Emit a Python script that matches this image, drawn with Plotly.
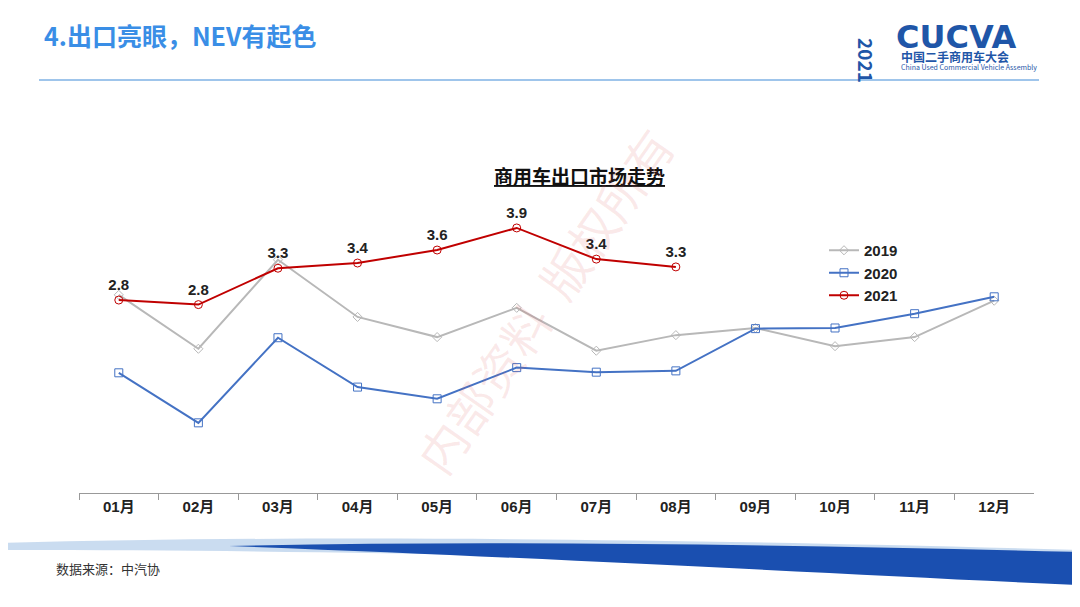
import plotly.graph_objects as go

months = ["01月", "02月", "03月", "04月", "05月", "06月", "07月", "08月", "09月", "10月", "11月", "12月"]
y2019 = [2.87, 2.04, 3.41, 2.53, 2.22, 2.67, 2.01, 2.25, 2.36, 2.08, 2.22, 2.78]
y2020 = [1.67, 0.90, 2.21, 1.45, 1.27, 1.75, 1.68, 1.70, 2.35, 2.36, 2.58, 2.84]
y2021 = [2.79, 2.72, 3.28, 3.36, 3.56, 3.90, 3.42, 3.30]
labels2021 = ["2.8", "2.8", "3.3", "3.4", "3.6", "3.9", "3.4", "3.3"]

W, H = 1080, 607
DX, DY = 9, 8  # page offset compensation


def px(x):
    return (x - DX) / W


def py(y):
    return 1 - (y - DY) / H


bold = dict(family="Liberation Sans, Noto Sans CJK SC", color="#222", weight="bold")

fig = go.Figure()
fig.add_trace(go.Scatter(x=months, y=y2019, name="2019", mode="lines+markers",
                         line=dict(color="#b8b8b8", width=2),
                         marker=dict(symbol="diamond-open", size=7, color="#b8b8b8")))
fig.add_trace(go.Scatter(x=months, y=y2020, name="2020", mode="lines+markers",
                         line=dict(color="#4472c4", width=2),
                         marker=dict(symbol="square-open", size=8, color="#4472c4")))
fig.add_trace(go.Scatter(x=months[:8], y=y2021, name="2021", mode="lines+markers+text",
                         line=dict(color="#c00000", width=2),
                         marker=dict(symbol="circle-open", size=8, color="#c00000"),
                         text=labels2021, textposition="top center",
                         textfont=dict(size=15, **bold), cliponaxis=False))

fig.update_layout(
    width=W, height=H, plot_bgcolor="white", paper_bgcolor="white",
    margin=dict(l=0, r=0, t=0, b=0),
    font=dict(family="Noto Sans CJK SC, Liberation Sans"),
    legend=dict(x=px(825), y=py(234), xanchor="left", yanchor="top",
                font=dict(size=15, **bold), bgcolor="rgba(0,0,0,0)", tracegroupgap=0),
    annotations=[
        dict(text="4.出口亮眼，NEV有起色", x=px(43), y=py(35), xref="paper", yref="paper",
             showarrow=False, xanchor="left", yanchor="middle",
             font=dict(size=25, color="#3a8ee6", family="Noto Sans CJK SC", weight="bold")),
        dict(text="<u>商用车出口市场走势</u>", x=px(580), y=py(160), xref="paper", yref="paper",
             showarrow=False, font=dict(size=19, color="#111", weight="bold")),
        dict(text="CUCVA", x=px(895), y=py(16), xref="paper", yref="paper", showarrow=False,
             xanchor="left", font=dict(size=32, color="#1f56a8", family="DejaVu Sans", weight="bold")),
        dict(text="2021", x=px(883), y=py(36), xref="paper", yref="paper", showarrow=False,
             textangle=90, font=dict(size=19, color="#1f56a8", weight="bold")),
        dict(text="中国二手商用车大会", x=px(900), y=py(46), xref="paper", yref="paper", showarrow=False,
             xanchor="left", font=dict(size=12, color="#1f56a8", weight="bold")),
        dict(text="China Used Commercial Vehicle Assembly", x=px(900), y=py(60), xref="paper",
             yref="paper", showarrow=False, xanchor="left", font=dict(size=7, color="#1f56a8")),
        dict(text="内部资料  版权所有", x=px(545), y=py(300), xref="paper", yref="paper", showarrow=False,
             textangle=-55, font=dict(size=48, color="rgba(220,80,80,0.13)")),
        dict(text="数据来源：中汽协", x=px(55), y=py(580), xref="paper", yref="paper", showarrow=False,
             xanchor="left", font=dict(size=13, color="#333")),
    ],
    shapes=[
        dict(type="line", xref="paper", yref="paper", x0=px(40), x1=px(1040), y0=py(80), y1=py(80),
             line=dict(color="#7fb2e5", width=1.5)),
        dict(type="path", xref="paper", yref="paper",
             path=f"M {px(0)},{py(543)} C {px(300)},{py(535)} {px(650)},{py(538)} {px(1080)},{py(550)} "
                  f"L {px(1080)},{py(570)} C {px(700)},{py(560)} {px(400)},{py(550)} {px(0)},{py(550)} Z",
             fillcolor="rgba(150,185,225,0.5)", line=dict(width=0)),
        dict(type="path", xref="paper", yref="paper",
             path=f"M {px(230)},{py(546)} C {px(500)},{py(540)} {px(800)},{py(545)} {px(1080)},{py(552)} "
                  f"L {px(1080)},{py(585)} C {px(850)},{py(575)} {px(600)},{py(560)} {px(230)},{py(546)} Z",
             fillcolor="#1a4fb0", line=dict(width=0)),
    ],
)
fig.update_xaxes(domain=[px(80), px(1035)], range=[-0.5, 11.5], showline=True, linecolor="#999",
                 linewidth=1, ticks="outside", tickson="boundaries", ticklen=6, tickcolor="#999",
                 tickfont=dict(size=15, **bold), showgrid=False)
fig.update_yaxes(domain=[py(493), py(200)], range=[-0.18, 4.33], visible=False, showgrid=False)

fig.write_html("out.html")
